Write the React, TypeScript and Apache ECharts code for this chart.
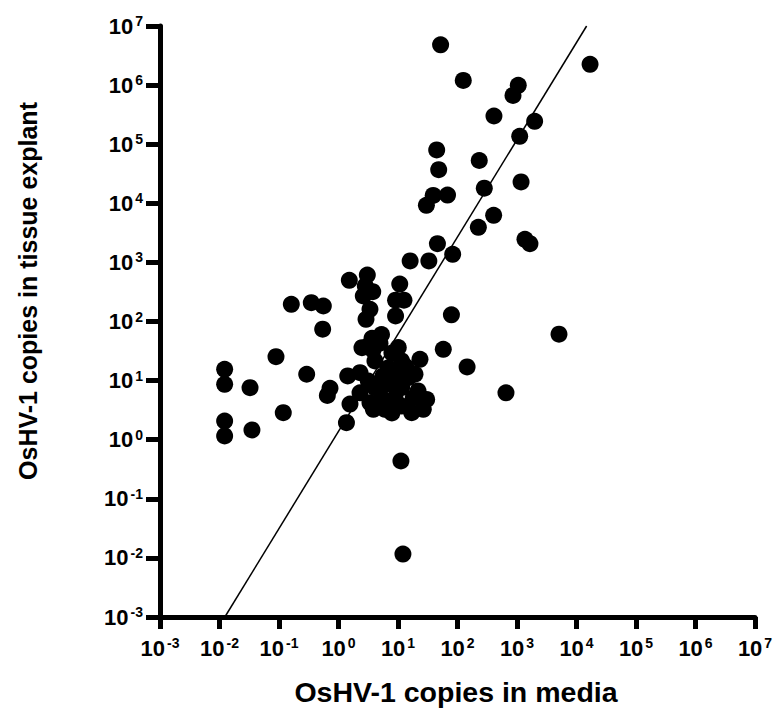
import React, { useEffect, useRef } from "react";
import * as echarts from "echarts";

// OsHV-1 copy numbers per sample: media (x) vs tissue explant (y)
const mediaCopies = [
  52, 125, 16900, 1050, 857, 410, 1980, 1110, 44.7, 232,
  48.3, 1170, 282, 39, 68, 30, 405, 224, 1360, 1650,
  46, 16, 33, 83, 10.7, 9.1, 12.6, 9.1, 79, 1.52,
  3.05, 2.82, 3.76, 2.61, 3.38, 2.9, 0.161, 0.349, 0.556, 0.542,
  5.28, 3.66, 2.48, 3.8, 10.1, 23.4, 57.7, 30.3, 0.0122, 0.0122,
  0.0326, 0.0122, 0.0122, 0.0351, 0.089, 0.118, 0.292, 0.72, 0.649, 1.43,
  1.56, 1.36, 11.2, 12.1, 145, 653, 5080, 3.13, 4.98, 2.3,
  3.38, 3.85, 6.05, 11.5, 17, 26.6, 18, 19.3, 6.9, 11.5,
  4.1, 6.75, 4.1, 11.5, 8.9, 5.3, 14.9, 3.17, 8.9, 7.9,
  13.6, 5.6, 21.7, 7.9, 2.3,
];
const tissueCopies = [
  4.8e6, 1.2e6, 2.25e6, 9.9e5, 6.7e5, 3.0e5, 2.44e5, 1.36e5, 8.0e4, 5.3e4,
  3.7e4, 2.3e4, 1.8e4, 1.36e4, 1.38e4, 9250, 6270, 3930, 2460, 2070,
  2070, 1060, 1060, 1370, 430, 229, 229, 124, 130, 498,
  612, 399, 319, 270, 161, 109, 195, 208, 183, 74,
  60, 52, 36, 32.6, 36.3, 22.9, 33.9, 4.8, 15.5, 8.65,
  7.6, 2.07, 1.16, 1.46, 25.4, 2.86, 12.8, 7.4, 5.6, 12.0,
  4.0, 1.94, 0.436, 0.0116, 17, 6.2, 61, 38.5, 43, 13.6,
  4.2, 3.27, 3.27, 3.7, 2.86, 3.27, 5.1, 12.8, 16.5, 21.5,
  21.5, 8.75, 7.6, 7.6, 5.1, 5.1, 11.2, 9.8, 12.8, 29.3,
  17, 12, 6.7, 2.83, 6.2,
];

// Fitted log-log regression line, end points at the axis limits
const fitMedia = [0.0123, 14800];
const fitTissue = [0.001, 1e7];

// Axis range (both axes): 10^-3 .. 10^7
const axisMin = 1e-3;
const axisMax = 1e7;

const FONT = "Arial, 'Liberation Sans', Helvetica, sans-serif";

function powerLabel(v: number): string {
  const e = Math.round(Math.log10(v));
  return `{b|10}{s|${e}}`;
}

const labelRich = {
  b: { fontSize: 22, fontWeight: "bold", fontFamily: FONT, color: "#000", lineHeight: 24 },
  s: {
    fontSize: 14,
    fontWeight: "bold",
    fontFamily: FONT,
    color: "#000",
    verticalAlign: "top",
    lineHeight: 15,
    padding: [0, 0, 0, 2],
  },
};

const labelBase = {
  fontSize: 22,
  fontWeight: "bold",
  fontFamily: FONT,
  color: "#000",
  formatter: powerLabel,
  rich: labelRich,
};

export default function App() {
  const ref = useRef<HTMLDivElement>(null);

  useEffect(() => {
    document.body.style.margin = "0";
    if (!ref.current) return;
    const chart = echarts.init(ref.current, undefined, { renderer: "svg" });

    const points = mediaCopies.map((x, i) => [x, tissueCopies[i]]);
    const fitLine = fitMedia.map((x, i) => [x, fitTissue[i]]);

    chart.setOption({
      animation: false,
      backgroundColor: "#fff",
      grid: { left: 160, top: 26, right: 25, bottom: 98, containLabel: false },
      xAxis: {
        type: "log",
        logBase: 10,
        min: axisMin,
        max: axisMax,
        interval: 1,
        axisLine: { show: true, onZero: false, lineStyle: { color: "#000", width: 5 } },
        axisTick: { show: true, length: 12, lineStyle: { color: "#000", width: 5 } },
        minorTick: { show: false },
        splitLine: { show: false },
        axisLabel: { ...labelBase, margin: 19 },
      },
      yAxis: {
        type: "log",
        logBase: 10,
        min: axisMin,
        max: axisMax,
        interval: 1,
        axisLine: { show: true, onZero: false, lineStyle: { color: "#000", width: 5 } },
        axisTick: { show: true, length: 14, lineStyle: { color: "#000", width: 5 } },
        minorTick: { show: false },
        splitLine: { show: false },
        axisLabel: { ...labelBase, margin: 17 },
      },
      graphic: [
        {
          type: "text",
          x: 28,
          y: 291,
          rotation: Math.PI / 2,
          style: {
            text: "OsHV-1 copies in tissue explant",
            fontSize: 25,
            fontWeight: "bold",
            fontFamily: FONT,
            fill: "#000",
            textAlign: "center",
            textVerticalAlign: "middle",
          },
        },
        {
          type: "text",
          x: 456,
          y: 692,
          style: {
            text: "OsHV-1 copies in media",
            fontSize: 28.5,
            fontWeight: "bold",
            fontFamily: FONT,
            fill: "#000",
            textAlign: "center",
            textVerticalAlign: "middle",
          },
        },
      ],
      series: [
        {
          type: "line",
          data: fitLine,
          showSymbol: false,
          symbol: "none",
          lineStyle: { color: "#000", width: 1.5 },
          z: 1,
          silent: true,
        },
        {
          type: "scatter",
          data: points,
          symbol: "circle",
          symbolSize: 17,
          itemStyle: { color: "#000", opacity: 1 },
          z: 2,
        },
      ],
    });

    return () => chart.dispose();
  }, []);

  return <div ref={ref} style={{ width: 780, height: 715 }} />;
}
